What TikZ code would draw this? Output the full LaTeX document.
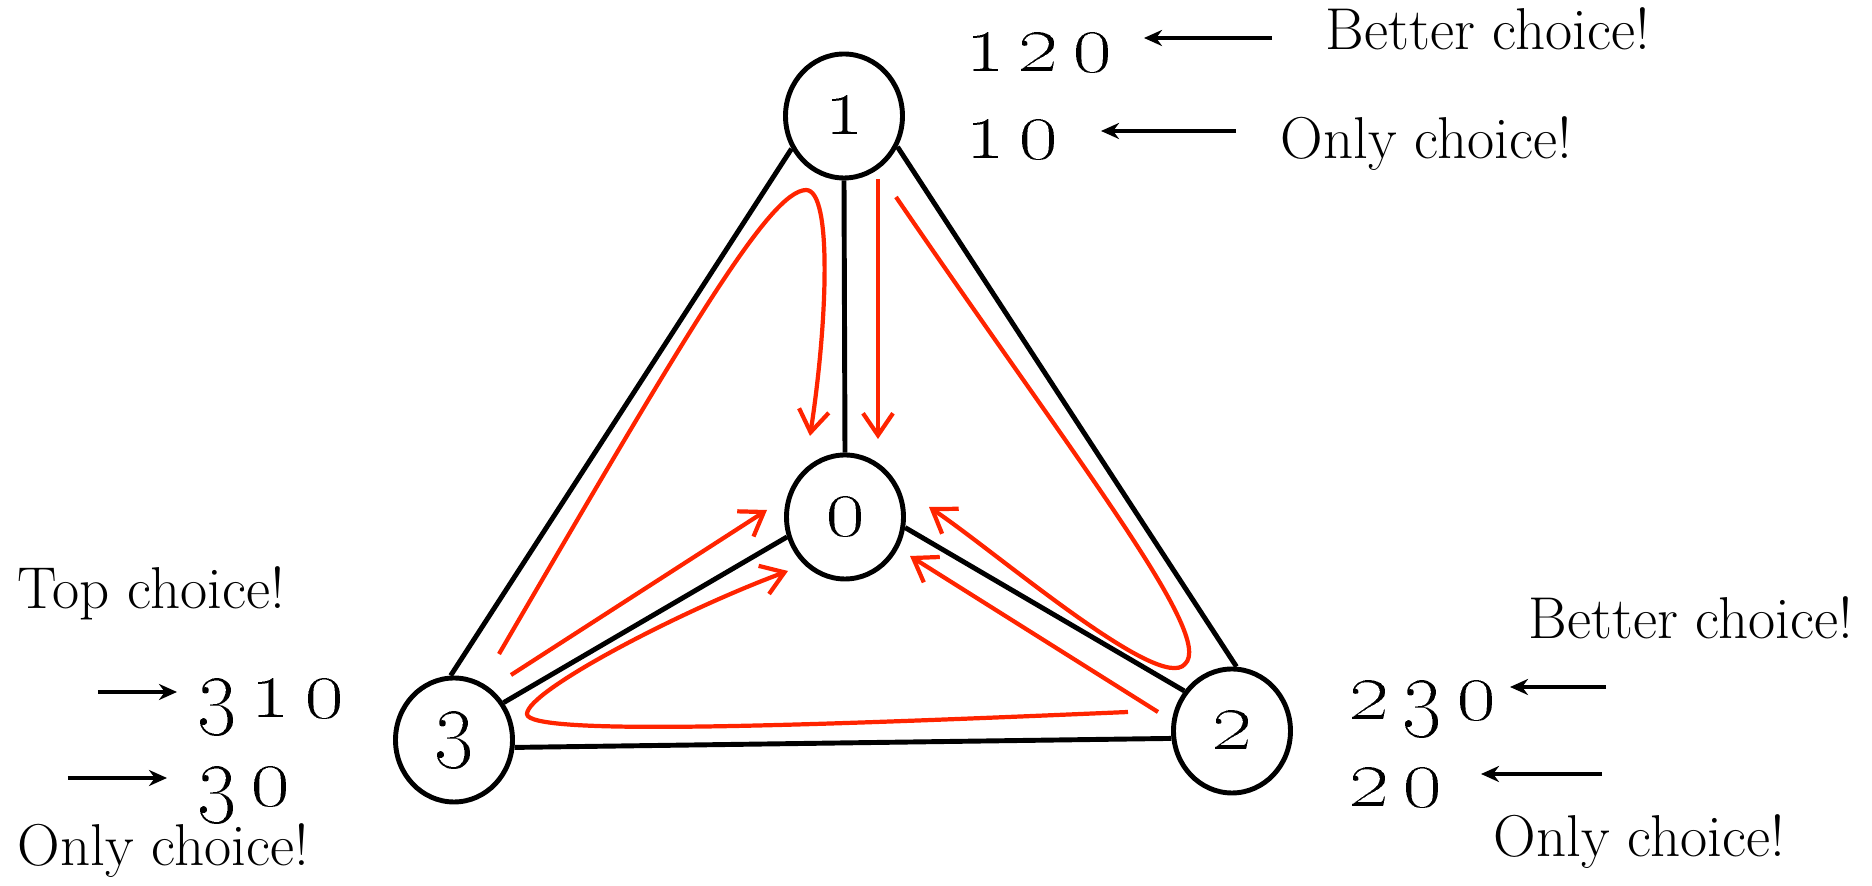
\documentclass[tikz,border=0pt]{standalone}
\usetikzlibrary{shapes.geometric, arrows.meta}

\definecolor{pathred}{HTML}{FF2400}
\newcommand{\route}[1]{\oldstylenums{#1}}

\begin{document}
\begin{tikzpicture}[>={Straight Barb[length=2.2mm,width=3mm]},
    vertex/.style={draw, ellipse, line width=1.4pt, minimum width=1.17cm,
        minimum height=1.24cm, inner sep=0pt, font=\fontsize{24}{24}\selectfont},
    link/.style={line width=1.4pt},
    walk/.style={->, pathred, line width=1.2pt},
    pointer/.style={-{Stealth[length=1.8mm,width=1.6mm]}, line width=1.3pt},
    note/.style={anchor=base west, inner sep=0pt, font=\fontsize{16.8}{18}\selectfont},
    seq/.style={anchor=base west, inner sep=0pt, font=\fontsize{25}{25}\selectfont}]
    \useasboundingbox (0,0) rectangle (18.72,8.86);

    % vertices
    \node[vertex] (v1) at (8.44,7.70) {\route{1}};
    \node[vertex] (v0) at (8.45,3.69) {\route{0}};
    \node[vertex] (v3) at (4.54,1.46) {\route{3}};
    \node[vertex] (v2) at (12.32,1.55) {\route{2}};

    \draw[link] (v1.212) -- (v3.93);
    \draw[link] (v1.330) -- (v2.86);
    \draw[link] (v1.south) -- (v0.north);
    \draw[link] (v0.199) -- (v3.37);
    \draw[link] (v0.350) -- (v2.140);
    \draw[link] (v3.353) -- (v2.187);

    % walks towards 0
    \coordinate (w1s) at (8.78,7.07);  \coordinate (w1e) at (8.78,4.47);
    \coordinate (w2s) at (4.99,2.32);  \coordinate (w2t) at (8.06,6.96);
    \coordinate (w2e) at (8.10,4.50);
    \coordinate (w3s) at (5.11,2.11);  \coordinate (w3e) at (7.67,3.76);
    \coordinate (w4s) at (11.28,1.74); \coordinate (w4t) at (5.27,1.72);
    \coordinate (w4e) at (7.88,3.15);
    \coordinate (w5s) at (11.58,1.74); \coordinate (w5e) at (9.10,3.30);
    \coordinate (w6s) at (8.96,6.89);  \coordinate (w6t) at (11.85,2.22);
    \coordinate (w6e) at (9.29,3.79);

    \draw[walk] (w1s) -- (w1e);
    \draw[walk] (w2s) .. controls (6.9,5.6) and (7.7,6.95) .. (w2t)
        .. controls (8.33,6.96) and (8.27,5.6) .. (w2e);
    \draw[walk] (w3s) -- (w3e);
    \draw[walk] (w4s) .. controls (8.0,1.60) and (5.27,1.50) .. (w4t)
        .. controls (5.27,1.95) and (6.8,2.75) .. (w4e);
    \draw[walk] (w5s) -- (w5e);
    \draw[walk] (w6s) .. controls (10.8,4.2) and (12.15,2.5) .. (w6t)
        .. controls (11.6,1.92) and (9.95,3.35) .. (w6e);

    % choices at 1
    \node[seq] (r120) at (9.65,8.14) {\route{1\,2\,0}};
    \node[seq] (r10) at (9.65,7.27) {\route{1\,0}};
    \node[note] (better1) at (13.25,8.36) {Better choice!};
    \node[note] (only1) at (12.80,7.27) {Only choice!};
    \coordinate (q1s) at (12.72,8.48); \coordinate (q1e) at (11.44,8.48);
    \coordinate (q2s) at (12.36,7.55); \coordinate (q2e) at (11.01,7.55);
    \draw[pointer] (q1s) -- (q1e);
    \draw[pointer] (q2s) -- (q2e);

    % choices at 3
    \node[seq] (r310) at (1.97,1.68) {\route{3\,1\,0}};
    \node[seq] (r30) at (1.97,0.80) {\route{3\,0}};
    \node[note] (top3) at (0.17,2.77) {Top choice!};
    \node[note] (only3) at (0.17,0.20) {Only choice!};
    \coordinate (q3s) at (0.98,1.94); \coordinate (q3e) at (1.77,1.94);
    \coordinate (q4s) at (0.68,1.08); \coordinate (q4e) at (1.67,1.08);
    \draw[pointer] (q3s) -- (q3e);
    \draw[pointer] (q4s) -- (q4e);

    % choices at 2
    \node[seq] (r230) at (13.49,1.66) {\route{2\,3\,0}};
    \node[seq] (r20) at (13.49,0.79) {\route{2\,0}};
    \node[note] (better2) at (15.28,2.47) {Better choice!};
    \node[note] (only2) at (14.93,0.29) {Only choice!};
    \coordinate (q5s) at (16.06,1.99); \coordinate (q5e) at (15.10,1.99);
    \coordinate (q6s) at (16.02,1.12); \coordinate (q6e) at (14.81,1.12);
    \draw[pointer] (q5s) -- (q5e);
    \draw[pointer] (q6s) -- (q6e);
\end{tikzpicture}
\end{document}
